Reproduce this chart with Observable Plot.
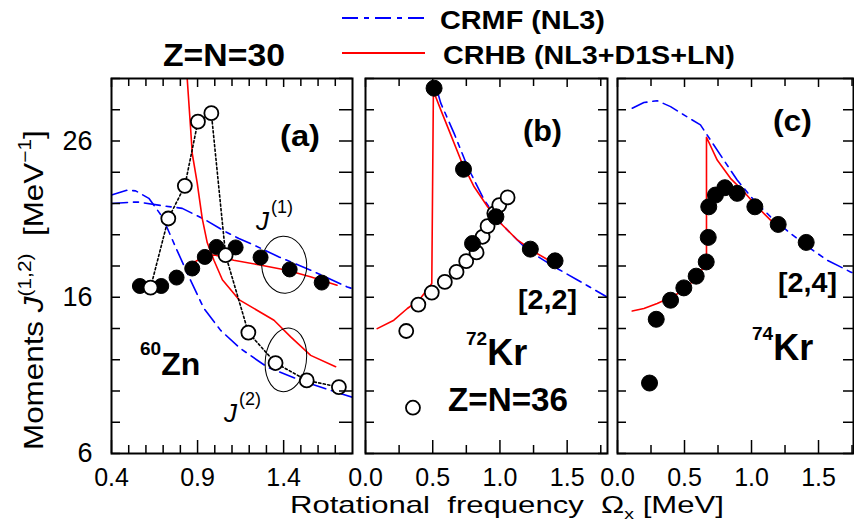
<!DOCTYPE html>
<html><head><meta charset="utf-8">
<script src="https://cdn.jsdelivr.net/npm/d3@7"></script>
<script src="https://cdn.jsdelivr.net/npm/@observablehq/plot@0.6"></script>
<style>
html,body{margin:0;padding:0;background:#fff;}
#wrap{position:relative;width:854px;height:531px;overflow:hidden;background:#fff;}
</style></head>
<body><div id="wrap"></div>
<script>
// ---------------- data ----------------
const yTickLabels = [6, 16, 26];
const yTicks = [6, 8, 10, 12, 14, 16, 18, 20, 22, 24, 26, 28, 30];
const xTicksA = [0.4, 0.9, 1.4];
const xMinorA = [0.5, 0.6, 0.7, 0.8, 1.0, 1.1, 1.2, 1.3, 1.5, 1.6, 1.7];
const xTicksBC = [0.0, 0.5, 1.0, 1.5];
const xMinorBC = [0.25, 0.75, 1.25, 1.75];

// (a) 60Zn
const zn60J1ExpOmega = [0.565, 0.689, 0.778, 0.869, 0.942, 1.010, 1.121, 1.266, 1.435, 1.621];
const zn60J1Exp      = [16.72, 16.72, 17.26, 17.84, 18.58, 19.22, 19.19, 18.55, 17.78, 16.94];
const zn60J2ExpOmega = [0.627, 0.730, 0.826, 0.902, 0.980, 1.063, 1.195, 1.353, 1.534, 1.721];
const zn60J2Exp      = [16.62, 21.04, 23.13, 27.24, 27.78, 18.69, 13.74, 11.79, 10.68, 10.25];
const zn60CrhbJ1Omega = [0.85, 0.89, 0.95, 1.00, 1.11, 1.27, 1.42, 1.56, 1.71];
const zn60CrhbJ1      = [18.15, 18.3, 18.65, 18.7, 18.37, 18.05, 17.73, 17.3, 16.77];
const zn60CrhbJ2Omega = [0.836, 0.859, 0.869, 0.898, 0.927, 0.956, 0.995, 1.044, 1.14, 1.344, 1.441, 1.557, 1.702];
const zn60CrhbJ2      = [30.6, 26.9, 25.2, 23.3, 21.05, 19.5, 18.37, 17.12, 15.85, 14.53, 13.46, 12.28, 11.55];
const zn60CrmfJ1Omega = [0.40, 0.55, 0.70, 0.811, 0.947, 1.063, 1.14, 1.208, 1.373, 1.557, 1.77, 1.80];
const zn60CrmfJ1      = [22.0, 22.1, 21.85, 21.69, 20.94, 20.19, 19.76, 19.44, 18.58, 17.73, 16.66, 16.55];
const zn60CrmfJ2Omega = [0.40, 0.49, 0.54, 0.617, 0.695, 0.772, 0.85, 0.937, 1.034, 1.15, 1.305, 1.499, 1.731, 1.80];
const zn60CrmfJ2      = [22.54, 22.85, 22.81, 22.33, 21.15, 19.22, 17.3, 15.28, 13.88, 12.71, 11.53, 10.68, 9.83, 9.6];

// (b) 72Kr
const kr72FilledOmega = [0.510, 0.729, 0.796, 0.970, 1.226, 1.410];
const kr72Filled      = [29.38, 24.19, 19.44, 21.15, 19.08, 18.33];
const kr72OpenOmega = [0.303, 0.353, 0.393, 0.493, 0.590, 0.677, 0.749, 0.826, 0.871, 0.908, 0.958, 0.995, 1.057];
const kr72Open      = [13.84, 8.93, 15.53, 16.30, 16.98, 17.62, 18.31, 18.87, 19.87, 20.55, 21.37, 21.90, 22.39];
const kr72CrhbOmega = [0.087, 0.211, 0.311, 0.398, 0.493, 0.505, 0.56, 0.61, 0.709, 0.808, 0.908, 1.007, 1.132, 1.256, 1.405];
const kr72Crhb      = [13.99, 14.53, 15.28, 15.81, 16.88, 29.2, 27.99, 26.92, 24.78, 23.07, 21.79, 20.72, 19.65, 18.90, 18.16];
const kr72CrmfOmega = [0.535, 0.56, 0.659, 0.759, 0.883, 1.007, 1.206, 1.405, 1.58, 1.80];
const kr72Crmf      = [29.16, 28.42, 26.49, 24.35, 22.22, 20.72, 19.01, 17.94, 17.09, 16.0];

// (c) 74Kr
const kr74FilledOmega = [0.239, 0.289, 0.396, 0.495, 0.587, 0.662, 0.677, 0.681, 0.731, 0.801, 0.893, 1.025, 1.199, 1.408];
const kr74Filled      = [10.51, 14.59, 15.81, 16.60, 17.35, 18.26, 19.83, 21.79, 22.54, 23.01, 22.65, 21.79, 20.66, 19.51];
const kr74CrhbOmega = [0.11, 0.197, 0.296, 0.396, 0.495, 0.582, 0.644, 0.664, 0.664, 0.744, 0.843, 0.943, 1.042, 1.142, 1.216];
const kr74Crhb      = [15.12, 15.28, 15.6, 15.98, 16.45, 17.2, 17.94, 18.69, 26.24, 24.78, 23.61, 22.75, 21.79, 20.94, 20.25];
const kr74CrmfOmega = [0.11, 0.197, 0.296, 0.396, 0.495, 0.619, 0.694, 0.793, 0.893, 1.017, 1.142, 1.291, 1.44, 1.565, 1.739, 1.76];
const kr74Crmf      = [28.1, 28.46, 28.58, 28.2, 27.67, 27.03, 26.06, 24.78, 23.5, 22.22, 21.15, 20.08, 19.12, 18.37, 17.62, 17.55];

// annotation ellipses for J(1), J(2) in panel (a): centre in data units
const ellipseOmega = [1.406, 1.416];
const ellipseJ     = [18.05, 11.96];

// ---------------- helpers ----------------
const W = 854, H = 531, MT = 78, MB = 78;
const FONT = "'Liberation Sans', Arial, Helvetica, sans-serif";
const BLUE = "#0000ff", RED = "#ff0000";
const DASHDOT = "16,6,5,6";
const pts = (xs, ys) => xs.map((x, i) => ({x, y: ys[i]}));
const wrap = document.getElementById("wrap");

function makePanel(o) {
  const innerW = o.width - o.mL - o.mR, innerH = H - MT - MB;
  const tk = {stroke: "#000", strokeWidth: 1.5};
  const marks = [
    ...o.marks,
    Plot.tickX(o.xMajor, {x: d => d, insetTop: innerH - 13, ...tk}),
    Plot.tickX(o.xMinor, {x: d => d, insetTop: innerH - 8, ...tk}),
    Plot.tickX(o.xMajor, {x: d => d, insetBottom: innerH - 9, ...tk}),
    Plot.tickX(o.xMinor, {x: d => d, insetBottom: innerH - 8, ...tk}),
    Plot.tickY(yTicks, {y: d => d, insetRight: innerW - 9, ...tk}),
    Plot.tickY(yTicks, {y: d => d, insetLeft: innerW - o.rTick, ...tk}),
    Plot.frame({stroke: "#000", strokeWidth: 2}),
    Plot.text(o.xMajor, {x: d => d, frameAnchor: "bottom", lineAnchor: "top", dy: 15,
      text: d => d.toFixed(1), fontSize: 25, fill: "#000"})
  ];
  if (o.yLabels) marks.push(Plot.text(yTickLabels, {y: d => d, frameAnchor: "left", textAnchor: "end",
      dx: -19, text: d => String(d), fontSize: 27, fill: "#000"}));
  const svg = Plot.plot({
    width: o.width, height: H, marginLeft: o.mL, marginRight: o.mR, marginTop: MT, marginBottom: MB,
    x: {domain: o.xDomain, axis: null},
    y: {domain: [6, 30], axis: null},
    style: {background: "transparent", fontFamily: FONT, overflow: "visible"},
    marks
  });
  svg.style.position = "absolute";
  svg.style.left = o.left + "px";
  svg.style.top = "0px";
  svg.style.maxWidth = "none";
  wrap.appendChild(svg);
  return svg;
}

const filled = (d, r = 7.5) => Plot.dot(d, {x: "x", y: "y", r, fill: "#000", stroke: "#000", strokeWidth: 1});
const open = (d, r = 7) => Plot.dot(d, {x: "x", y: "y", r, fill: "#fff", stroke: "#000", strokeWidth: 1.8});
const blueLine = d => Plot.line(d, {x: "x", y: "y", stroke: BLUE, strokeWidth: 1.6, strokeDasharray: DASHDOT, clip: true});
const redLine = d => Plot.line(d, {x: "x", y: "y", stroke: RED, strokeWidth: 1.6, clip: true});

// ---------------- panels ----------------
const pa = makePanel({
  left: 0, width: 358, mL: 111, mR: 6, xDomain: [0.4, 1.8], xMajor: xTicksA, xMinor: xMinorA, yLabels: true, rTick: 13,
  marks: [
    blueLine(pts(zn60CrmfJ1Omega, zn60CrmfJ1)),
    blueLine(pts(zn60CrmfJ2Omega, zn60CrmfJ2)),
    redLine(pts(zn60CrhbJ2Omega, zn60CrhbJ2)),
    redLine(pts(zn60CrhbJ1Omega, zn60CrhbJ1)),
    Plot.line(pts(zn60J2ExpOmega, zn60J2Exp), {x: "x", y: "y", stroke: "#000", strokeWidth: 1.6, strokeDasharray: "2.2,2.4"}),
    filled(pts(zn60J1ExpOmega, zn60J1Exp)),
    open(pts(zn60J2ExpOmega, zn60J2Exp))
  ]
});
const pb = makePanel({
  left: 358, width: 254, mL: 7, mR: 5, xDomain: [0, 1.8], xMajor: xTicksBC, xMinor: xMinorBC, yLabels: false, rTick: 9,
  marks: [
    blueLine(pts(kr72CrmfOmega, kr72Crmf)),
    redLine(pts(kr72CrhbOmega, kr72Crhb)),
    open(pts(kr72OpenOmega, kr72Open)),
    filled(pts(kr72FilledOmega, kr72Filled), 8)
  ]
});
const pc = makePanel({
  left: 611, width: 243, mL: 6, mR: 1, xDomain: [0, 1.761], xMajor: xTicksBC, xMinor: xMinorBC, yLabels: false, rTick: 10,
  marks: [
    blueLine(pts(kr74CrmfOmega, kr74Crmf)),
    redLine(pts(kr74CrhbOmega, kr74Crhb)),
    filled(pts(kr74FilledOmega, kr74Filled), 8)
  ]
});

// ellipses via panel (a) scales
{
  const sx = pa.scale("x"), sy = pa.scale("y");
  const sizes = [[22.5, 28.5, -3], [20.5, 32, 8]];
  ellipseOmega.forEach((w, i) => {
    const cx = sx.apply(w), cy = sy.apply(ellipseJ[i]);
    d3.select(pa).append("ellipse")
      .attr("cx", cx).attr("cy", cy).attr("rx", sizes[i][0]).attr("ry", sizes[i][1])
      .attr("transform", `rotate(${sizes[i][2]},${cx},${cy})`)
      .attr("fill", "none").attr("stroke", "#000").attr("stroke-width", 1);
  });
}

// ---------------- overlay texts ----------------
const ov = d3.select(wrap).append("svg")
  .attr("width", W).attr("height", H)
  .style("position", "absolute").style("left", "0px").style("top", "0px")
  .style("pointer-events", "none").style("overflow", "visible")
  .attr("font-family", FONT);

function fitted(x0, x1, base, size, weight, build) {
  const g = ov.append("g").attr("transform", `translate(${x0},${base})`);
  const t = g.append("text").attr("x", 0).attr("y", 0).attr("font-size", size).attr("font-weight", weight)
    .attr("fill", "#000").style("white-space", "pre");
  build(t);
  const w = t.node().getBBox().width;
  const target = Math.abs(x1 - x0);
  if (w > 0) t.attr("transform", `scale(${target / w},1)`);
  return t;
}
const plain = s => t => t.text(s);

// legend
ov.append("line").attr("x1", 342).attr("x2", 425).attr("y1", 18).attr("y2", 18)
  .attr("stroke", BLUE).attr("stroke-width", 1.8).attr("stroke-dasharray", DASHDOT);
ov.append("line").attr("x1", 342).attr("x2", 425).attr("y1", 53).attr("y2", 53)
  .attr("stroke", RED).attr("stroke-width", 1.8);
fitted(440, 605, 29, 26, "bold", plain("CRMF (NL3)"));
fitted(443, 735, 64, 26, "bold", plain("CRHB (NL3+D1S+LN)"));
fitted(163, 285, 66, 32, "bold", plain("Z=N=30"));

// y axis title (rotated)
{
  const g = ov.append("g").attr("transform", "translate(43,450) rotate(-90)");
  const t = g.append("text").attr("font-size", 27).attr("fill", "#000").style("white-space", "pre");
  t.append("tspan").text("Moments ");
  t.append("tspan").attr("font-style", "italic").text("J");
  t.append("tspan").attr("font-size", 18).attr("dy", -12).text("(1,2)");
  t.append("tspan").attr("dy", 12).text("  [MeV");
  t.append("tspan").attr("font-size", 18).attr("dy", -12).text("\u22121");
  t.append("tspan").attr("dy", 12).text("]");
  const w = t.node().getBBox().width;
  t.attr("transform", `scale(${320 / w},1)`);
}
// x axis title
fitted(290, 724, 513, 24, "normal", t => {
  t.append("tspan").text("Rotational  frequency  \u03A9");
  t.append("tspan").attr("font-size", 15).attr("dy", 6).text("x");
  t.append("tspan").attr("dy", -6).text(" [MeV]");
});

// panel labels
fitted(280, 320, 146, 30, "bold", plain("(a)"));
fitted(523, 562, 141, 30, "bold", plain("(b)"));
fitted(773, 812, 131, 30, "bold", plain("(c)"));
fitted(518, 577, 309, 28, "bold", plain("[2,2]"));
fitted(778, 837, 292, 28, "bold", plain("[2,4]"));
fitted(448, 568, 411, 33, "bold", plain("Z=N=36"));

function nucl(x, base, mass, sym, supSize, size) {
  const t = ov.append("text").attr("x", x).attr("y", base).attr("fill", "#000").attr("font-weight", "bold");
  t.append("tspan").attr("font-size", supSize).attr("dy", -20).text(mass);
  t.append("tspan").attr("font-size", size).attr("dy", 20).text(sym);
}
nucl(140, 375, "60", "Zn", 19, 32);
nucl(466, 365, "72", "Kr", 19, 36);
nucl(752, 360, "74", "Kr", 19, 36);

function jlabel(x, base, sup) {
  const t = ov.append("text").attr("x", x).attr("y", base).attr("fill", "#000");
  t.append("tspan").attr("font-size", 26).attr("font-style", "italic").text("J");
  t.append("tspan").attr("font-size", 18).attr("dy", -17).attr("dx", 2).text(sup);
}
jlabel(256, 230, "(1)");
jlabel(224, 422, "(2)");
</script>
</body></html>
